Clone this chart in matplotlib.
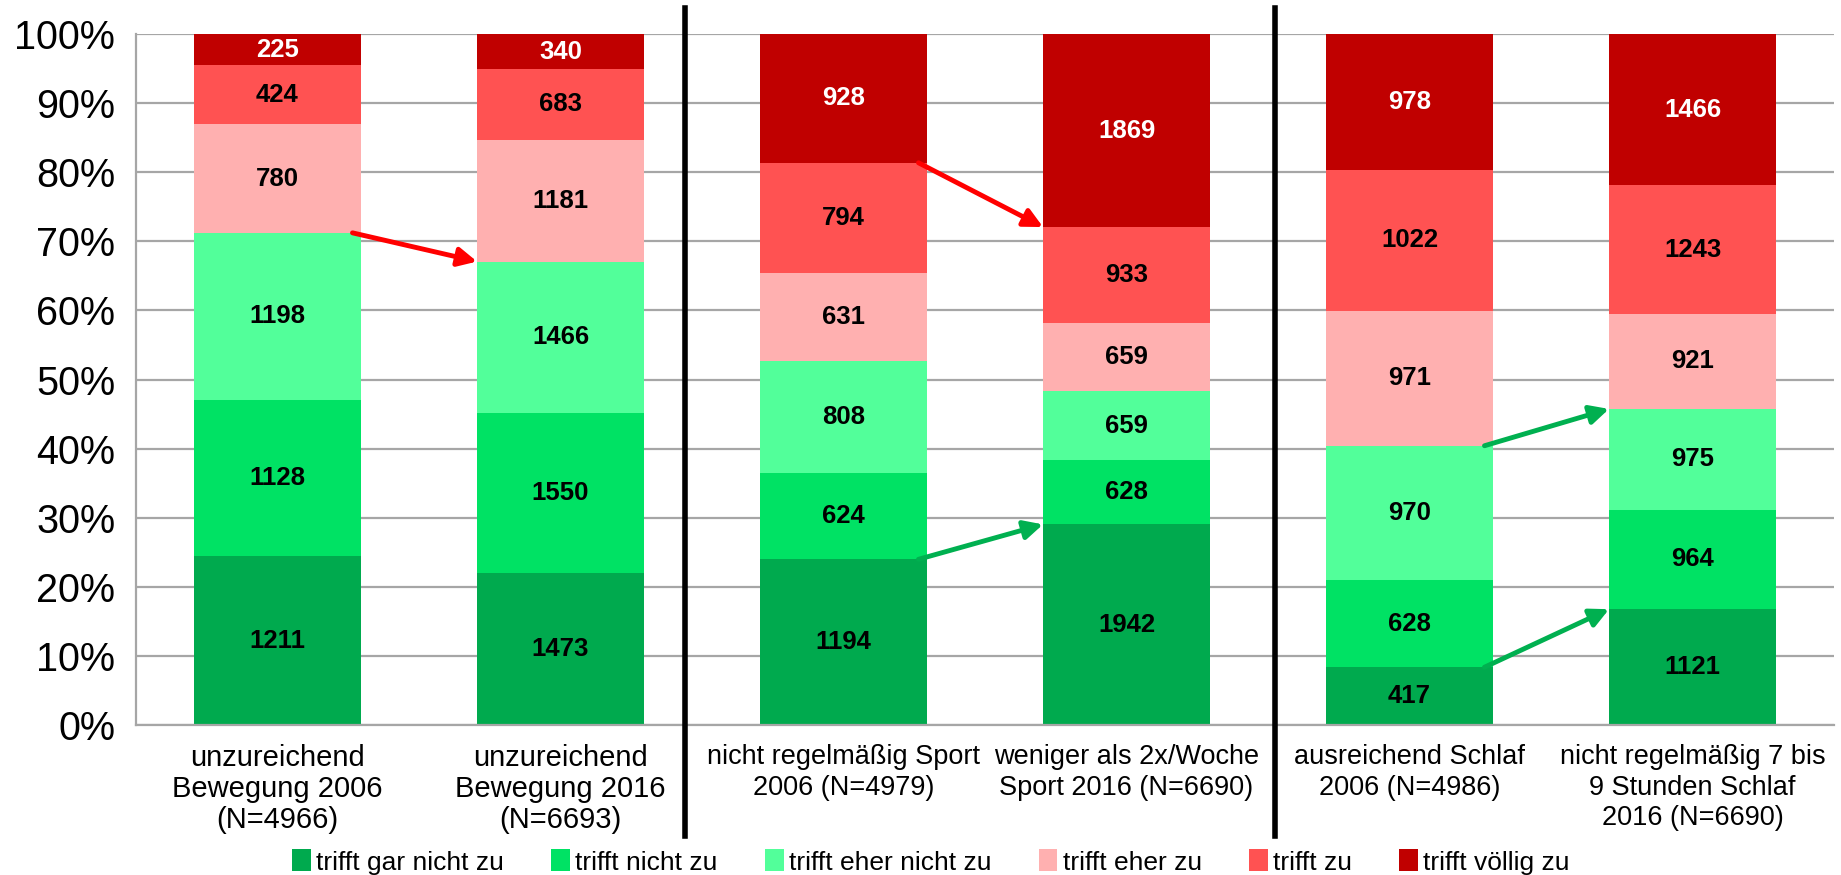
import matplotlib
matplotlib.use("Agg")
import matplotlib.pyplot as plt
from matplotlib.patches import Patch
import numpy as np

plt.rcParams['font.family'] = ['Liberation Sans', 'DejaVu Sans']

# --- data -------------------------------------------------------------
categories = [
    "unzureichend\nBewegung 2006\n(N=4966)",
    "unzureichend\nBewegung 2016\n(N=6693)",
    "nicht regelmäßig Sport\n2006 (N=4979)",
    "weniger als 2x/Woche\nSport 2016 (N=6690)",
    "ausreichend Schlaf\n2006 (N=4986)",
    "nicht regelmäßig 7 bis\n9 Stunden Schlaf\n2016 (N=6690)",
]
series_names = ["trifft gar nicht zu", "trifft nicht zu", "trifft eher nicht zu",
                "trifft eher zu", "trifft zu", "trifft völlig zu"]
gar_nicht = [1211, 1473, 1194, 1942, 417, 1121]
nicht = [1128, 1550, 624, 628, 628, 964]
eher_nicht = [1198, 1466, 808, 659, 970, 975]
eher = [780, 1181, 631, 659, 971, 921]
zu = [424, 683, 794, 933, 1022, 1243]
voellig = [225, 340, 928, 1869, 978, 1466]

colors = ["#00AA4E", "#00E264", "#52FF9A", "#FFB0B0", "#FF5252", "#C00000"]
label_colors = ["black", "black", "black", "black", "black", "white"]

# arrows: (from bar, to bar, boundary index = number of stacked series below), colour
arrows = [(0, 1, 3, "#FF0000"), (2, 3, 5, "#FF0000"), (2, 3, 1, "#00B050"),
          (4, 5, 3, "#00B050"), (4, 5, 1, "#00B050")]

counts = np.array([gar_nicht, nicht, eher_nicht, eher, zu, voellig], dtype=float)
totals = counts.sum(axis=0)
shares = counts / totals * 100
cum = np.vstack([np.zeros(len(categories)), np.cumsum(shares, axis=0)])

# --- figure ------------------------------------------------------------
fig = plt.figure(figsize=(18.41, 8.75), dpi=100)
ax = fig.add_axes([136 / 1841, 150 / 875, 1698 / 1841, 691 / 875])

x = np.arange(len(categories))
width = 0.59
for i in range(len(series_names)):
    ax.bar(x, shares[i], width, bottom=cum[i], color=colors[i], zorder=2,
           label=series_names[i])
    for j in range(len(categories)):
        ax.text(x[j], cum[i][j] + shares[i][j] / 2, f"{int(counts[i][j])}",
                ha="center", va="center", fontsize=18.5, fontweight="bold",
                color=label_colors[i], zorder=3)

ax.set_xlim(-0.5, len(categories) - 0.5)
ax.set_ylim(0, 100)
ax.set_yticks(np.arange(0, 101, 10))
ax.set_yticklabels([f"{v}%" for v in range(0, 101, 10)], fontsize=28.5)
ax.set_xticks(x)
ax.set_xticklabels(categories, fontsize=21, linespacing=1.12)
# the longer labels are squeezed in the original, so keep them a bit smaller
for lbl in ax.get_xticklabels()[2:]:
    lbl.set_fontsize(19.5)
    lbl.set_linespacing(1.21)
ax.tick_params(axis="both", length=0)
ax.tick_params(axis="y", pad=15)
ax.tick_params(axis="x", pad=14)
ax.grid(axis="y", color="#A6A6A6", linewidth=1.6, zorder=0)
for s in ["top", "right"]:
    ax.spines[s].set_visible(False)
for s in ["left", "bottom"]:
    ax.spines[s].set_color("#A6A6A6")
    ax.spines[s].set_linewidth(1.6)

# separators between the three groups
trans = ax.get_xaxis_transform()
for xs in [1.44, 3.525]:
    ax.plot([xs, xs], [-0.16, 1.038], color="black", lw=4, transform=trans,
            clip_on=False, zorder=4)

# arrows between stacked boundaries
for a, b, k, c in arrows:
    ax.annotate("", xy=(x[b] - width / 2, cum[k][b]),
                xytext=(x[a] + width / 2 - 0.03, cum[k][a]),
                arrowprops=dict(arrowstyle="-|>", color=c, lw=3.5,
                                mutation_scale=28, shrinkA=0, shrinkB=0),
                zorder=5)

handles = [Patch(facecolor=c) for c in colors]
fig.legend(handles, series_names, loc="center", bbox_to_anchor=(931 / 1841, 1 - 862 / 875),
           ncol=6, frameon=False, fontsize=19, handlelength=0.7, handleheight=0.9,
           handletextpad=0.2, columnspacing=1.8, borderpad=0)

fig.savefig("out.png", dpi=100)
